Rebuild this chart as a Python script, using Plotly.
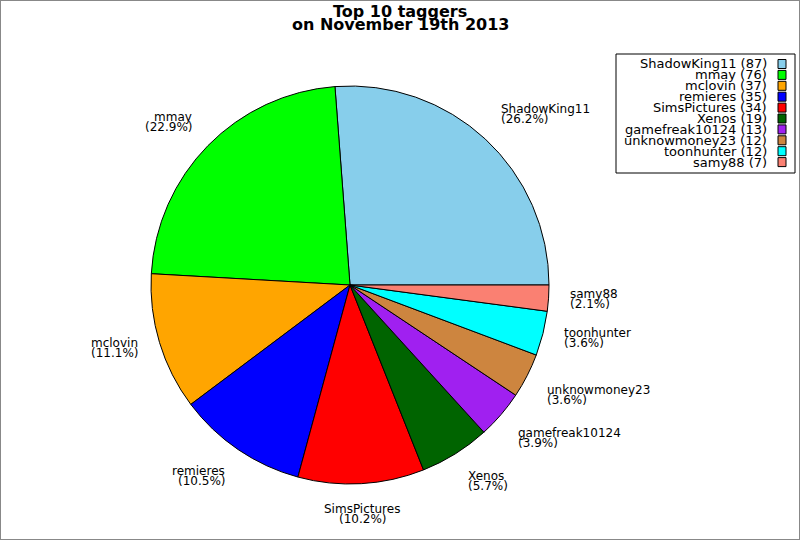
import math

import plotly.graph_objects as go

TITLE_LINES = ["Top 10 taggers", "on November 19th 2013"]
NAMES = [
    "ShadowKing11", "mmay", "mclovin", "remieres", "SimsPictures",
    "Xenos", "gamefreak10124", "unknowmoney23", "toonhunter", "samy88",
]
COUNTS = [87, 76, 37, 35, 34, 19, 13, 12, 12, 7]
COLORS = [
    "#87CEEB", "#00FF00", "#FFA500", "#0000FF", "#FF0000",
    "#006400", "#A020F0", "#CD853F", "#00FFFF", "#FA8072",
]

W, H = 800, 540
FONT = "DejaVu Sans"
# pie geometry in pixels
CX, CY, R = 350, 285, 199

total = sum(COUNTS)

# plotly keeps the first slice clockwise of `rotation` in ccw mode,
# so shift it to make the first slice start at 3 o'clock
rot = 90 - 360 * COUNTS[0] / total

fig = go.Figure(
    go.Pie(
        labels=NAMES,
        values=COUNTS,
        marker=dict(colors=COLORS, line=dict(color="black", width=1)),
        sort=False,
        direction="counterclockwise",
        rotation=rot,
        textinfo="none",
        hoverinfo="label+value+percent",
        showlegend=False,
        domain=dict(
            x=[(CX - R) / W, (CX + R) / W],
            y=[(H - CY - R) / H, (H - CY + R) / H],
        ),
    )
)

annotations = []
shapes = []

# title, two tight lines
for i, line in enumerate(TITLE_LINES):
    annotations.append(dict(
        text=f"<b>{line}</b>", x=0.5, y=1 - (11 + 13.5 * i) / H,
        xref="paper", yref="paper", xanchor="center", yanchor="middle",
        showarrow=False, font=dict(family=FONT, size=16, color="black"),
    ))

# slice labels, placed at 1.1R on each slice's mid angle
cum = 0
for name, v in zip(NAMES, COUNTS):
    mid = (cum + v / 2) / total * 2 * math.pi
    cum += v
    c, s = math.cos(mid), math.sin(mid)
    px_ = CX + 1.1 * R * c
    py_ = CY - 1.1 * R * s
    if abs(c) < 0.2:
        xa = "center"
    elif c > 0:
        xa = "left"
    else:
        xa = "right"
    if s > 0.4:
        offs = (-15, -5)
    elif s < -0.4:
        offs = (5, 15)
    else:
        offs = (-5, 5)
    pct = f"({v / total * 100:.1f}%)"
    for txt, off in zip([name, pct], offs):
        annotations.append(dict(
            text=txt, x=px_ / W, y=1 - (py_ + off) / H,
            xref="paper", yref="paper", xanchor=xa, yanchor="middle",
            showarrow=False, font=dict(family=FONT, size=12, color="black"),
        ))

# legend box with swatches on the right
shapes.append(dict(
    type="rect", xref="paper", yref="paper",
    x0=616 / W, x1=795 / W, y0=1 - 173 / H, y1=1 - 54 / H,
    line=dict(color="black", width=1), fillcolor="white", layer="below",
))
for i, (name, v, col) in enumerate(zip(NAMES, COUNTS, COLORS)):
    yc = 64 + 10.9 * i
    annotations.append(dict(
        text=f"{name} ({v})", x=769 / W, y=1 - yc / H,
        xref="paper", yref="paper", xanchor="right", yanchor="middle",
        showarrow=False, font=dict(family=FONT, size=13, color="black"),
    ))
    shapes.append(dict(
        type="rect", xref="paper", yref="paper",
        x0=778 / W, x1=786 / W, y0=1 - (yc + 4.5) / H, y1=1 - (yc - 4.5) / H,
        line=dict(color="black", width=1), fillcolor=col,
    ))

# outer border
shapes.append(dict(
    type="rect", xref="paper", yref="paper", x0=0, x1=1, y0=0, y1=1,
    line=dict(color="#888888", width=2),
))

fig.update_layout(
    width=W,
    height=H,
    margin=dict(l=0, r=0, t=0, b=0),
    paper_bgcolor="white",
    plot_bgcolor="white",
    font=dict(family=FONT, color="black"),
    annotations=annotations,
    shapes=shapes,
)

fig.write_html(
    "out.html",
    config={"displayModeBar": False},
    post_script="document.body.style.margin='0px';",
)
